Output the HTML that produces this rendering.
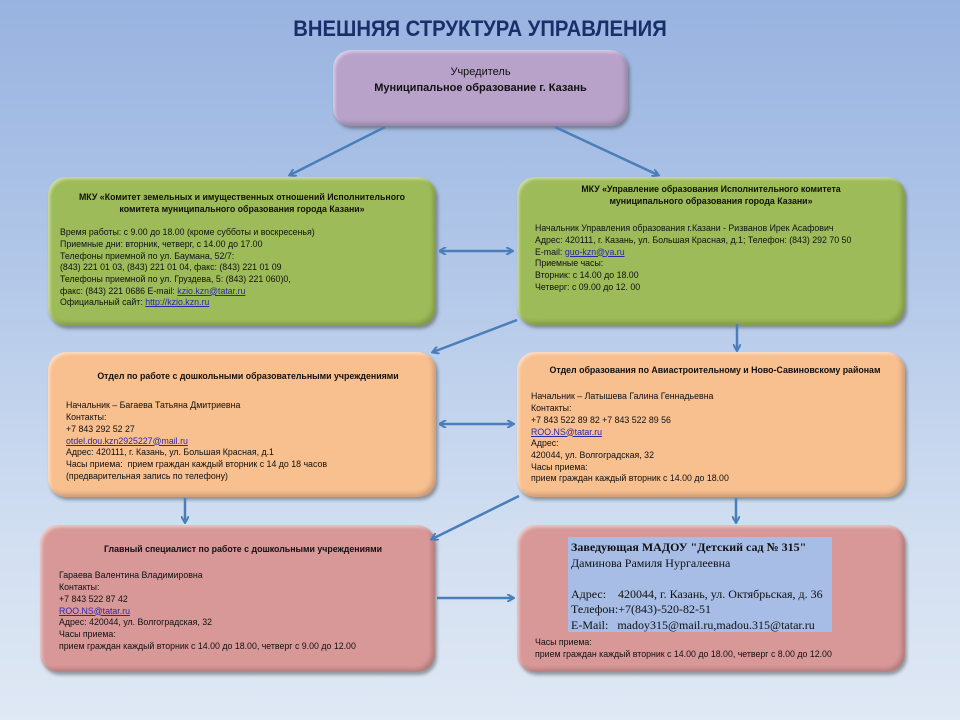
<!DOCTYPE html>
<html><head><meta charset="utf-8"><style>
*{margin:0;padding:0;box-sizing:border-box}
body{width:960px;height:720px;overflow:hidden;position:relative;font-family:"Liberation Sans",sans-serif;
background:linear-gradient(180deg,#98b3e0 0%,#b4c9e9 40%,#d2dff1 75%,#dfe8f4 100%)}
.t{position:absolute;left:0;width:960px;top:16px;text-align:center;font:bold 22px "Liberation Sans",sans-serif;color:#1a2f6a;transform:scaleX(0.92)}
.b{position:absolute;border-radius:18px;box-shadow:2px 3px 3px rgba(60,60,60,.45), inset -3px -3px 4px rgba(0,0,0,.18), inset 2px 2px 3px rgba(255,255,255,.5);font-size:8.8px;line-height:11.7px;color:#111;white-space:pre}
.h{font-weight:bold;text-align:center;display:block}
a{color:#2a2aa8;text-decoration:underline}
.g{background:#9dbb58}.o{background:#f8bf8f}.p{background:#d89898}.v{background:#b8a2c9}
svg{position:absolute;left:0;top:0}
</style></head><body>
<div class="t">ВНЕШНЯЯ СТРУКТУРА УПРАВЛЕНИЯ</div>

<div class="b v" style="left:333px;top:50px;width:295px;height:76px;text-align:center;font-size:11px;line-height:16px;padding-top:14px">Учредитель
<b>Муниципальное образование г. Казань</b></div>

<div class="b g" style="left:48px;top:177px;width:388px;height:149px;padding:15px 0 0 12px"><span class="h" style="margin-right:12px">МКУ «Комитет земельных и имущественных отношений Исполнительного
комитета муниципального образования города Казани»</span>
Время работы: с 9.00 до 18.00 (кроме субботы и воскресенья)
Приемные дни: вторник, четверг, с 14.00 до 17.00
Телефоны приемной по ул. Баумана, 52/7:
(843) 221 01 03, (843) 221 01 04, факс: (843) 221 01 09
Телефоны приемной по ул. Груздева, 5: (843) 221 060)0,
факс: (843) 221 0686 E-mail: <a>kzio.kzn@tatar.ru</a>
Официальный сайт: <a>http://kzio.kzn.ru</a></div>

<div class="b g" style="left:517px;top:177px;width:388px;height:148px;padding:7px 0 0 18px"><span class="h" style="margin-right:18px">МКУ «Управление образования Исполнительного комитета
муниципального образования города Казани»</span>
<span style="display:block;height:4px"></span>Начальник Управления образования г.Казани - Ризванов Ирек Асафович
Адрес: 420111, г. Казань, ул. Большая Красная, д.1; Телефон: (843) 292 70 50
E-mail: <a>guo-kzn@ya.ru</a>
Приемные часы:
Вторник: с 14.00 до 18.00
Четверг: с 09.00 до 12. 00</div>

<div class="b o" style="left:48px;top:352px;width:388px;height:145px;padding:19px 0 0 18px"><span class="h" style="margin-right:6px">Отдел по работе с дошкольными образовательными учреждениями</span>
<span style="display:block;height:6px"></span>Начальник – Багаева Татьяна Дмитриевна
Контакты:
+7 843 292 52 27
<a>otdel.dou.kzn2925227@mail.ru</a>
Адрес: 420111, г. Казань, ул. Большая Красная, д.1
Часы приема:  прием граждан каждый вторник с 14 до 18 часов
(предварительная запись по телефону)</div>

<div class="b o" style="left:517px;top:352px;width:388px;height:145px;padding:13px 0 0 14px"><span class="h" style="margin-right:6px">Отдел образования по Авиастроительному и Ново-Савиновскому районам</span>
<span style="display:block;height:3px"></span>Начальник – Латышева Галина Геннадьевна
Контакты:
+7 843 522 89 82 +7 843 522 89 56
<a>ROO.NS@tatar.ru</a>
Адрес:
420044, ул. Волгоградская, 32
Часы приема:
прием граждан каждый вторник с 14.00 до 18.00</div>

<div class="b p" style="left:40px;top:525px;width:395px;height:147px;padding:19px 0 0 19px"><span class="h" style="margin-right:8px">Главный специалист по работе с дошкольными учреждениями</span>
<span style="display:block;height:3px"></span>Гараева Валентина Владимировна
Контакты:
+7 843 522 87 42
<a>ROO.NS@tatar.ru</a>
Адрес: 420044, ул. Волгоградская, 32
Часы приема:
прием граждан каждый вторник с 14.00 до 18.00, четверг с 9.00 до 12.00</div>

<div class="b p" style="left:517px;top:525px;width:388px;height:147px"></div>
<div style="position:absolute;left:568px;top:537px;width:264px;height:95px;background:#a8bde6;font:12px/15.5px 'Liberation Serif',serif;color:#111;white-space:pre;padding:3px 0 0 3px"><b>Заведующая МАДОУ "Детский сад № 315"</b>
Даминова Рамиля Нургалеевна

Адрес:    420044, г. Казань, ул. Октябрьская, д. 36
Телефон:+7(843)-520-82-51
E-Mail:   madoy315@mail.ru,madou.315@tatar.ru</div>
<div style="position:absolute;left:535px;top:637px;font-size:8.8px;line-height:11.7px;white-space:pre;color:#111">Часы приема:
прием граждан каждый вторник с 14.00 до 18.00, четверг с 8.00 до 12.00</div>

<svg width="960" height="720">
<defs><marker id="a" markerWidth="8" markerHeight="8" refX="6" refY="4" orient="auto" markerUnits="userSpaceOnUse"><path d="M0,0 L7,4 L0,8" fill="none" stroke="#4a7ebb" stroke-width="2"/></marker>
<marker id="s" markerWidth="8" markerHeight="8" refX="1" refY="4" orient="auto" markerUnits="userSpaceOnUse"><path d="M7,0 L0,4 L7,8" fill="none" stroke="#4a7ebb" stroke-width="2"/></marker></defs>
<g stroke="#4a7ebb" stroke-width="2.5" fill="none">
<line x1="385" y1="127" x2="290" y2="175" marker-end="url(#a)"/>
<line x1="555" y1="127" x2="658" y2="175" marker-end="url(#a)"/>
<line x1="440" y1="251" x2="512" y2="251" marker-start="url(#s)" marker-end="url(#a)"/>
<line x1="517" y1="320" x2="433" y2="352" marker-end="url(#a)"/>
<line x1="737" y1="324" x2="737" y2="350" marker-end="url(#a)"/>
<line x1="440" y1="424" x2="513" y2="424" marker-start="url(#s)" marker-end="url(#a)"/>
<line x1="185" y1="498" x2="185" y2="522" marker-end="url(#a)"/>
<line x1="519" y1="496" x2="432" y2="539" marker-end="url(#a)"/>
<line x1="736" y1="498" x2="736" y2="522" marker-end="url(#a)"/>
<line x1="437" y1="598" x2="513" y2="598" marker-end="url(#a)"/>
</g></svg>
</body></html>
